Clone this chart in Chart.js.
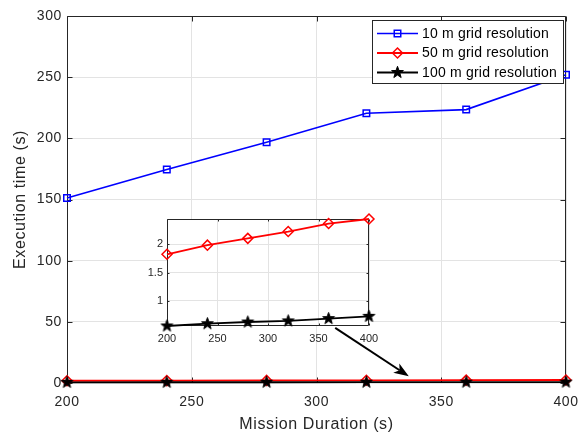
<!DOCTYPE html>
<html>
<head>
<meta charset="utf-8">
<script src="https://cdn.jsdelivr.net/npm/chart.js@4.4.0/dist/chart.umd.min.js"></script>
<style>
  html, body { margin: 0; padding: 0; background: #fff; }
  #wrap { position: relative; width: 581px; height: 437px; }
  #mainChart { position: absolute; left: 0; top: 0; }
  #insetChart { position: absolute; left: 130px; top: 205px; }
</style>
</head>
<body>
<div id="wrap">
  <canvas id="mainChart" width="581" height="437"></canvas>
  <canvas id="insetChart" width="260" height="140"></canvas>
</div>
<script>
// Mission durations (s) and execution times (s) per grid resolution
const durations = [200, 240, 280, 320, 360, 400];
const time10m = [151.3, 174.6, 196.8, 220.5, 223.5, 252.0];
const time50m = [1.82, 1.98, 2.10, 2.22, 2.36, 2.44];
const time100m = [0.56, 0.60, 0.63, 0.65, 0.69, 0.73];
const seriesLabels = ['10 m grid resolution', '50 m grid resolution', '100 m grid resolution'];
const xTicks = [200, 250, 300, 350, 400];
const yTicks = [0, 50, 100, 150, 200, 250, 300];
const insetYTicks = [1, 1.5, 2];
// arrow from the zoomed panel down to the low curves, in data units
const arrowTail = [307.5, 45];
const arrowHead = [337, 5.5];

const FONT = "'Liberation Sans', Arial, Helvetica, sans-serif";
const TEXT = '#262626';
const GRID = '#e3e3e3';

// filled five-pointed star marker
function makeStar(size, outer, inner, color) {
    const c = document.createElement('canvas');
    c.width = size;
    c.height = size;
    const g = c.getContext('2d');
    g.fillStyle = color;
    g.strokeStyle = color;
    g.lineWidth = 1;
    g.beginPath();
    for (let i = 0; i < 10; i++) {
        const r = i % 2 ? inner : outer;
        const a = -Math.PI / 2 + i * Math.PI / 5;
        const px = size / 2 + r * Math.cos(a);
        const py = size / 2 + r * Math.sin(a);
        if (i === 0) g.moveTo(px, py); else g.lineTo(px, py);
    }
    g.closePath();
    g.fill();
    g.stroke();
    return c;
}
const starMarker = makeStar(15, 6.2, 2.5, '#000');

function points(ys) {
    return durations.map((x, i) => ({ x: x, y: ys[i] }));
}

function series10() {
    return {
        label: seriesLabels[0], data: points(time10m),
        borderColor: '#0000ff', backgroundColor: 'rgba(0,0,0,0)', borderWidth: 1.6,
        pointStyle: 'rect', pointRadius: 4.6, pointBorderWidth: 1.5,
        pointBorderColor: '#0000ff', pointBackgroundColor: 'rgba(0,0,0,0)',
        order: 3, clip: false
    };
}
function series50() {
    return {
        label: seriesLabels[1], data: points(time50m),
        borderColor: '#ff0000', backgroundColor: 'rgba(0,0,0,0)', borderWidth: 1.8,
        pointStyle: 'rectRot', pointRadius: 5, pointBorderWidth: 1.5,
        pointBorderColor: '#ff0000', pointBackgroundColor: 'rgba(0,0,0,0)',
        order: 2, clip: false
    };
}
function series100() {
    return {
        label: seriesLabels[2], data: points(time100m),
        borderColor: '#000000', backgroundColor: 'rgba(0,0,0,0)', borderWidth: 1.8,
        pointStyle: starMarker, pointRadius: 6,
        order: 1, clip: false
    };
}

// box round the plot area with inward tick marks, MATLAB style
const axesBox = {
    id: 'axesBox',
    beforeDraw(chart, args, opts) {
        if (opts.fill) {
            const a = chart.chartArea;
            chart.ctx.save();
            chart.ctx.fillStyle = opts.fill;
            chart.ctx.fillRect(a.left, a.top, a.right - a.left, a.bottom - a.top);
            chart.ctx.restore();
        }
        if (opts.letterSpacing) chart.ctx.letterSpacing = opts.letterSpacing;
    },
    beforeDatasetsDraw(chart, args, opts) {
        const { ctx, chartArea: a, scales } = chart;
        const L = Math.round(a.left) + 0.5, R = Math.round(a.right) - 0.5;
        const T = Math.round(a.top) + 0.5, B = Math.round(a.bottom) - 0.5;
        const len = opts.tickLength;
        ctx.save();
        ctx.strokeStyle = TEXT;
        ctx.lineWidth = 1;
        ctx.beginPath();
        ctx.rect(L, T, R - L, B - T);
        scales.x.ticks.forEach(t => {
            const px = Math.round(scales.x.getPixelForValue(t.value)) + 0.5;
            ctx.moveTo(px, B); ctx.lineTo(px, B - len);
            ctx.moveTo(px, T); ctx.lineTo(px, T + len);
        });
        scales.y.ticks.forEach(t => {
            const py = Math.round(scales.y.getPixelForValue(t.value)) + 0.5;
            ctx.moveTo(L, py); ctx.lineTo(L + len, py);
            ctx.moveTo(R, py); ctx.lineTo(R - len, py);
        });
        ctx.stroke();
        ctx.restore();
    }
};

function drawMarker(ctx, ds, x, y) {
    const style = ds.pointStyle;
    const r = ds.pointRadius;
    if (typeof style === 'object') {
        ctx.drawImage(style, x - style.width / 2, y - style.height / 2);
        return;
    }
    ctx.save();
    ctx.strokeStyle = ds.pointBorderColor;
    ctx.lineWidth = ds.pointBorderWidth;
    ctx.beginPath();
    if (style === 'rect') {
        const s = Math.SQRT1_2 * r;
        ctx.rect(x - s, y - s, 2 * s, 2 * s);
    } else {
        ctx.moveTo(x, y - r); ctx.lineTo(x + r, y);
        ctx.lineTo(x, y + r); ctx.lineTo(x - r, y);
        ctx.closePath();
    }
    ctx.stroke();
    ctx.restore();
}

// legend box in the upper right corner
const boxLegend = {
    id: 'boxLegend',
    afterDraw(chart) {
        const ctx = chart.ctx;
        const left = 372.5, top = 20.5, right = 563.5, bottom = 83.5;
        const rows = [33.5, 53, 72.5];
        ctx.save();
        ctx.letterSpacing = '0.2px';
        ctx.fillStyle = '#fff';
        ctx.fillRect(left, top, right - left, bottom - top);
        ctx.strokeStyle = TEXT;
        ctx.lineWidth = 1;
        ctx.strokeRect(left, top, right - left, bottom - top);
        const sets = chart.data.datasets;
        sets.forEach((ds, i) => {
            const y = rows[i];
            ctx.strokeStyle = ds.borderColor;
            ctx.lineWidth = ds.borderWidth;
            ctx.beginPath();
            ctx.moveTo(377, y);
            ctx.lineTo(418, y);
            ctx.stroke();
            drawMarker(ctx, ds, 397.5, y);
            ctx.fillStyle = '#000';
            ctx.font = '14px ' + FONT;
            ctx.textAlign = 'left';
            ctx.textBaseline = 'middle';
            ctx.fillText(ds.label, 422, y + 0.5);
        });
        ctx.restore();
    }
};

// arrow pointing from the zoomed panel to the curves near zero
const zoomArrow = {
    id: 'zoomArrow',
    afterDatasetsDraw(chart) {
        const { ctx, scales: { x, y } } = chart;
        const x0 = x.getPixelForValue(arrowTail[0]), y0 = y.getPixelForValue(arrowTail[1]);
        const x1 = x.getPixelForValue(arrowHead[0]), y1 = y.getPixelForValue(arrowHead[1]);
        const ang = Math.atan2(y1 - y0, x1 - x0);
        const headLen = 15, headW = 5.5, back = 11;
        const bx = x1 - back * Math.cos(ang), by = y1 - back * Math.sin(ang);
        const hx = x1 - headLen * Math.cos(ang), hy = y1 - headLen * Math.sin(ang);
        ctx.save();
        ctx.strokeStyle = '#000';
        ctx.fillStyle = '#000';
        ctx.lineWidth = 2;
        ctx.beginPath();
        ctx.moveTo(x0, y0);
        ctx.lineTo(bx, by);
        ctx.stroke();
        ctx.beginPath();
        ctx.moveTo(x1, y1);
        ctx.lineTo(hx - headW * Math.sin(ang), hy + headW * Math.cos(ang));
        ctx.lineTo(bx, by);
        ctx.lineTo(hx + headW * Math.sin(ang), hy - headW * Math.cos(ang));
        ctx.closePath();
        ctx.fill();
        ctx.restore();
    }
};

function fixedTicks(values) {
    return function(scale) {
        scale.ticks = values.map(v => ({ value: v }));
    };
}

// fixed axis size, and no extra room for the end labels
function fixHeight(h) {
    return function(s) {
        s.height = h;
        s.paddingLeft = 0;
        s.paddingRight = 0;
    };
}

new Chart(document.getElementById('mainChart'), {
    type: 'line',
    data: { datasets: [series10(), series50(), series100()] },
    plugins: [axesBox, zoomArrow, boxLegend],
    options: {
        responsive: false,
        devicePixelRatio: 1,
        animation: false,
        events: [],
        layout: { autoPadding: false, padding: { left: 0, top: 16, right: 15, bottom: 0 } },
        plugins: {
            legend: { display: false },
            tooltip: { enabled: false },
            axesBox: { tickLength: 5, letterSpacing: '0.6px' }
        },
        scales: {
            x: {
                type: 'linear', min: 200, max: 400,
                afterBuildTicks: fixedTicks(xTicks),
                afterFit: fixHeight(54),
                grid: { color: GRID, drawTicks: false },
                border: { display: false },
                ticks: { padding: 11, color: TEXT, font: { family: FONT, size: 14 } },
                title: {
                    display: true, text: 'Mission Duration (s)', color: TEXT,
                    font: { family: FONT, size: 16 }, padding: { top: 0, bottom: 3 }
                }
            },
            y: {
                type: 'linear', min: 0, max: 300,
                afterBuildTicks: fixedTicks(yTicks),
                afterFit: s => { s.width = 67; s.paddingTop = 0; s.paddingBottom = 0; },
                grid: { color: GRID, drawTicks: false },
                border: { display: false },
                ticks: { padding: 5, color: TEXT, font: { family: FONT, size: 14 } },
                title: {
                    display: true, text: 'Execution time (s)', color: TEXT,
                    font: { family: FONT, size: 16 }, padding: { top: 10.5, bottom: 0 }
                }
            }
        }
    }
});

// zoomed panel for the two fast resolutions, axis tight to the data
new Chart(document.getElementById('insetChart'), {
    type: 'line',
    data: { datasets: [series50(), series100()] },
    plugins: [axesBox],
    options: {
        responsive: false,
        devicePixelRatio: 1,
        animation: false,
        events: [],
        layout: { autoPadding: false, padding: { left: 0, top: 14, right: 21, bottom: 0 } },
        plugins: {
            legend: { display: false },
            tooltip: { enabled: false },
            axesBox: { tickLength: 2, fill: '#fff' }
        },
        scales: {
            x: {
                type: 'linear', min: 200, max: 400,
                afterBuildTicks: fixedTicks(xTicks),
                afterFit: fixHeight(19),
                grid: { color: GRID, drawTicks: false },
                border: { display: false },
                ticks: { padding: 6, color: TEXT, font: { family: FONT, size: 11 } }
            },
            y: {
                type: 'linear',
                min: Math.min(...time100m), max: Math.max(...time50m),
                afterBuildTicks: fixedTicks(insetYTicks),
                afterFit: s => { s.width = 37; s.paddingTop = 0; s.paddingBottom = 0; },
                grid: { color: GRID, drawTicks: false },
                border: { display: false },
                ticks: {
                    padding: 4, color: TEXT, font: { family: FONT, size: 11 },
                    callback: v => String(v)
                }
            }
        }
    }
});
</script>
</body>
</html>
